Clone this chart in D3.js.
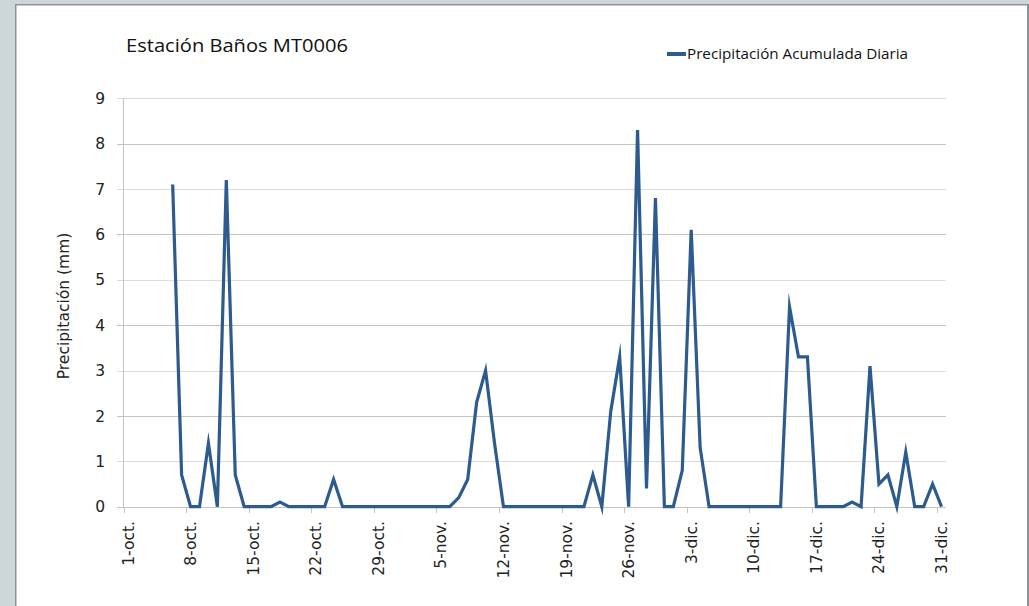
<!DOCTYPE html>
<html><head><meta charset="utf-8">
<script src="https://cdn.jsdelivr.net/npm/d3@7"></script>
<style>
body{margin:0;padding:0;background:#fff;}
svg{display:block;}
</style></head>
<body>
<svg id="c" width="1029" height="606"></svg>
<script>
// Day index 0 = 1-oct, 91 = 31-dic
const days = d3.range(0, 92);
const precip = [
  null,null,null,null,null, 7.1,0.7,0,0,1.4, 0,7.2,0.7,0,0, 0,0,0.1,0,0,
  0,0,0,0.6,0, 0,0,0,0,0, 0,0,0,0,0, 0,0,0.2,0.6,2.3,
  3.0,1.4,0,0,0, 0,0,0,0,0, 0,0,0.7,0,2.1, 3.3,0,8.3,0.4,6.8,
  0,0,0.8,6.1,1.3, 0,0,0,0,0, 0,0,0,0,4.4, 3.3,3.3,0,0,0,
  0,0.1,0,3.1,0.5, 0.7,0,1.2,0,0, 0.5,0
];
const tickDays = [0,7,14,21,28,35,42,49,56,63,70,77,84,91];
const tickLabels = ["1-oct.","8-oct.","15-oct.","22-oct.","29-oct.","5-nov.","12-nov.","19-nov.","26-nov.","3-dic.","10-dic.","17-dic.","24-dic.","31-dic."];
const yTicks = [0,1,2,3,4,5,6,7,8,9];

const svg = d3.select("#c");
const font = "'Open Sans', 'Noto Sans', sans-serif";
const lfont = "'DejaVu Sans', 'Open Sans', sans-serif";

// frame
svg.append("rect").attr("x",0).attr("y",0).attr("width",1029).attr("height",606).attr("fill","#cdd7da");
svg.append("rect").attr("x",15).attr("y",4).attr("width",1014).attr("height",602).attr("fill","#8e9294");
svg.append("rect").attr("x",16.5).attr("y",5.5).attr("width",1010.5).attr("height",600.5).attr("fill","#ffffff");

const x = d3.scaleLinear().domain([0, 92]).range([123.5, 946]);
const y = d3.scaleLinear().domain([0, 9]).range([506.7, 98.3]);

// gridlines
svg.append("g").selectAll("line").data(yTicks).join("line")
  .attr("x1", 117).attr("x2", 946)
  .attr("y1", d => Math.round(y(d))+0.5).attr("y2", d => Math.round(y(d))+0.5)
  .attr("stroke", d => d % 2 ? "#dcdcdc" : "#c4c4c4").attr("stroke-width", 1);

// y axis line
svg.append("line").attr("x1",123.5).attr("x2",123.5).attr("y1",98).attr("y2",507)
  .attr("stroke","#c4c4c4");

// y tick labels
svg.append("g").selectAll("text").data(yTicks).join("text")
  .attr("x", 105).attr("y", d => y(d)).attr("dy","0.36em")
  .attr("text-anchor","end").attr("font-family",lfont).attr("font-size",15.5).attr("fill","#222")
  .text(d => d);

// x axis ticks
const xg = svg.append("g");
xg.selectAll("line").data(tickDays).join("line")
  .attr("x1", d => Math.round(x(d))+0.5).attr("x2", d => Math.round(x(d))+0.5)
  .attr("y1", 507).attr("y2", 513).attr("stroke","#c4c4c4");
xg.selectAll("text").data(tickDays).join("text")
  .attr("transform", d => `translate(${x(d)+10},521) rotate(-90)`)
  .attr("text-anchor","end").attr("font-family",lfont).attr("font-size",15.5).attr("fill","#222")
  .text((d,i) => tickLabels[i]);

// line
const line = d3.line()
  .defined(d => d.v !== null)
  .x(d => x(d.i + 0.5)).y(d => y(d.v));
const data = days.map(i => ({i, v: precip[i]}));
svg.append("path").datum(data).attr("d", line)
  .attr("fill","none").attr("stroke","#2d5b8f").attr("stroke-width",3.2)
  .attr("stroke-linejoin","miter").attr("stroke-miterlimit",10);

// title
svg.append("text").attr("x",126).attr("y",52).attr("font-family",font).attr("font-size",19)
  .attr("fill","#111").attr("textLength",222).attr("lengthAdjust","spacingAndGlyphs")
  .text("Estación Baños MT0006");

// legend
svg.append("line").attr("x1",667).attr("x2",686).attr("y1",54).attr("y2",54)
  .attr("stroke","#2d5b8f").attr("stroke-width",4);
svg.append("text").attr("x",687).attr("y",59).attr("font-family",font).attr("font-size",14)
  .attr("fill","#111").attr("textLength",221).attr("lengthAdjust","spacingAndGlyphs")
  .text("Precipitación Acumulada Diaria");

// y label
svg.append("text").attr("transform","translate(69,306) rotate(-90)")
  .attr("text-anchor","middle").attr("font-family",lfont).attr("font-size",15.5).attr("fill","#222")
  .text("Precipitación (mm)");
</script>
</body></html>
